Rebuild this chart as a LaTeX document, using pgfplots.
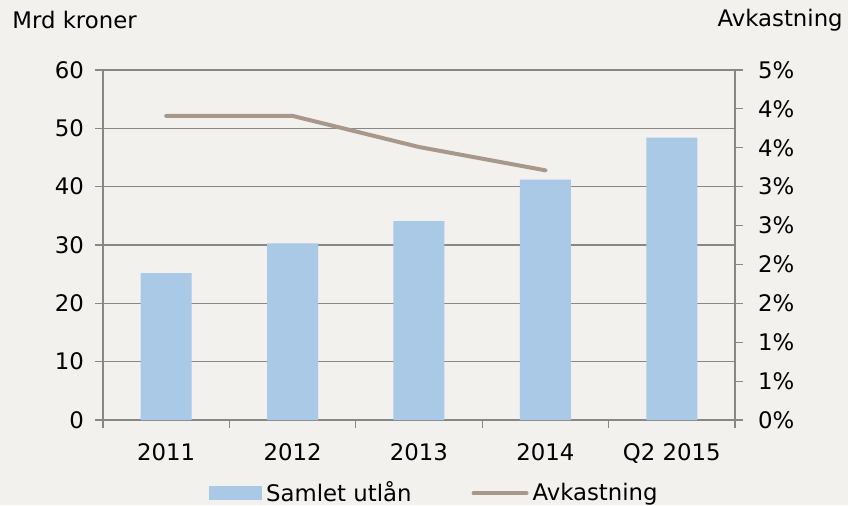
\documentclass[border=0pt]{standalone}
\usepackage{fontspec}
\setmainfont{DejaVu Sans}
\usepackage{pgfplots}
\pgfplotsset{compat=1.18}
\definecolor{barblue}{HTML}{A9C9E6}
\definecolor{linetaupe}{HTML}{A8988C}
\definecolor{axisgrey}{HTML}{878787}
\definecolor{bgcol}{HTML}{F3F1ED}

\pgfplotsset{
  common/.style={
    scale only axis, width=316pt, height=175pt,
    at={(0,0)}, anchor=south west,
    xmin=-0.5, xmax=4.5,
    font=\fontsize{11.4}{13}\selectfont,
    /pgf/number format/assume math mode=true,
    axis line style={axisgrey, line width=0.6pt},
    every tick/.style={axisgrey, line width=0.6pt},
    tick align=outside,
    major tick length=4pt, minor tick length=4pt,
  }
}

\begin{document}
\begin{tikzpicture}
\fill[bgcol] (-51.5pt,-42.5pt) rectangle (372.5pt,210pt);
\path[use as bounding box] (-51.5pt,-42.5pt) rectangle (372.5pt,210pt);

% left axis: bars
\begin{axis}[common, clip=false,
  axis x line*=bottom, axis y line*=left,
  ymin=0, ymax=60, ytick={0,10,...,60},
  ymajorgrids, grid style={axisgrey, line width=0.6pt},
  xtick={0,...,4},
  xticklabels={2011,2012,2013,2014,Q2 2015},
  major x tick style={draw=none},
  minor xtick={-0.5,0.5,...,4.5},
  xticklabel style={yshift=-4.5pt},
  yticklabel style={xshift=-2pt},
]
\addplot[ybar, bar width=25.5pt, fill=barblue, draw=none] coordinates {
  (0,25.2) (1,30.3) (2,34.1) (3,41.2) (4,48.4)
};
\node[anchor=west, inner sep=0pt] at (axis description cs:-0.144,1.143) {Mrd kroner};
\node[anchor=east, inner sep=0pt] at (axis description cs:1.171,1.143) {Avkastning};
\end{axis}

% right axis: line
\begin{axis}[common,
  axis x line=none, axis y line*=right,
  ymin=0, ymax=4.5, ytick={0,0.5,...,4.5},
  yticklabels={0\%,1\%,1\%,2\%,2\%,3\%,3\%,4\%,4\%,5\%},
  yticklabel style={xshift=4pt},
  legend columns=2,
  legend style={at={(axis description cs:0.526,-0.209)}, anchor=center,
    draw=none, fill=none, font=\fontsize{11.4}{13}\selectfont,
    /tikz/every even column/.append style={column sep=28pt}},
]
\addlegendimage{area legend, fill=barblue, draw=none,
  legend image code/.code={\fill[barblue] (0pt,-3.6pt) rectangle (26.5pt,3.6pt);}}
\addlegendentry{Samlet utlån}
\addplot[linetaupe, line width=2pt, line cap=round,
  legend image code/.code={\draw[linetaupe, line width=2pt, line cap=round] (0pt,0pt) -- (26.5pt,0pt);}]
  coordinates {(0,3.91) (1,3.91) (2,3.51) (3,3.21)};
\addlegendentry{Avkastning}
\end{axis}
\end{tikzpicture}
\end{document}
